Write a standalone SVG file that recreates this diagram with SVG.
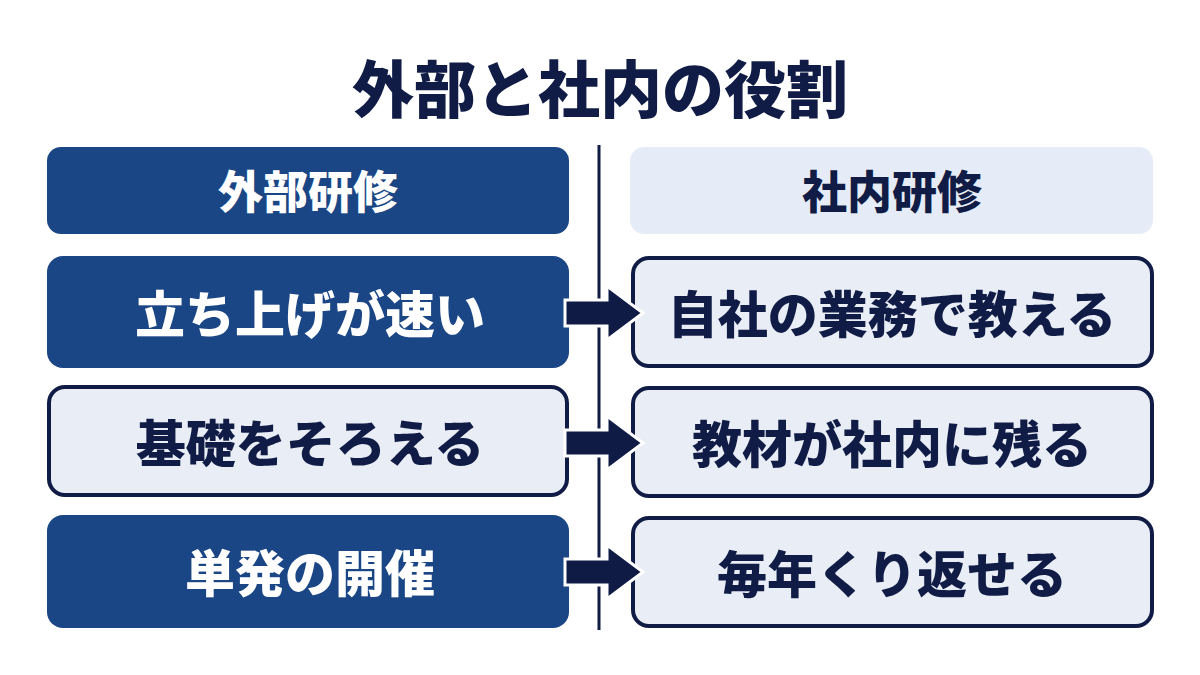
<svg xmlns="http://www.w3.org/2000/svg" width="1200" height="675" viewBox="0 0 1200 675">
<style>
.t{font-family:"Noto Sans CJK JP","Noto Sans",sans-serif;font-weight:900;text-anchor:middle;dominant-baseline:central}
.title{font-size:62px;fill:#101c45}
.hd{font-size:45px}
.row{font-size:50px}
.w{fill:#ffffff}
.n{fill:#101c45}
.dark{fill:#1b4685}
.light{fill:#e8edf6;stroke:#101c45;stroke-width:4}
.lhd{fill:#e6ecf7}
</style>
<defs>
<g id="arr">
<path d="M0,-13 H42 V-27 L78,0 L42,27 V13 H0 Z" fill="#0f1b45" stroke="#ffffff" stroke-width="3" stroke-linejoin="miter"/>
</g>
</defs>
<rect width="1200" height="675" fill="#ffffff"/>
<g id="title"><text class="t title" x="600" y="86">外部と社内の役割</text></g>
<g id="divider"><line x1="599" y1="145" x2="599" y2="630" stroke="#101c45" stroke-width="3"/></g>
<g id="hdr-left"><rect class="dark" x="47" y="147" width="522" height="87" rx="14"/><text class="t hd w" x="308" y="189">外部研修</text></g>
<g id="hdr-right"><rect class="lhd" x="630" y="147" width="523" height="87" rx="14"/><text class="t hd n" x="892" y="189">社内研修</text></g>
<g id="l1"><rect class="dark" x="47" y="256" width="522" height="112" rx="16"/><text class="t row w" x="310" y="311">立ち上げが速い</text></g>
<g id="l2"><rect class="light" x="49" y="387" width="518" height="108" rx="16"/><text class="t row n" x="310" y="440">基礎をそろえる</text></g>
<g id="l3"><rect class="dark" x="47" y="515" width="522" height="113" rx="16"/><text class="t row w" x="310" y="570">単発の開催</text></g>
<g id="r1"><rect class="light" x="633" y="258" width="519" height="108" rx="16"/><text class="t row n" x="892" y="311">自社の業務で教える</text></g>
<g id="r2"><rect class="light" x="633" y="388" width="519" height="108" rx="16"/><text class="t row n" x="892" y="441">教材が社内に残る</text></g>
<g id="r3"><rect class="light" x="633" y="518" width="519" height="108" rx="16"/><text class="t row n" x="892" y="571">毎年くり返せる</text></g>
<g id="connectors">
<use href="#arr" x="565" y="313"/>
<use href="#arr" x="565" y="443"/>
<use href="#arr" x="565" y="572"/>
</g>
</svg>
